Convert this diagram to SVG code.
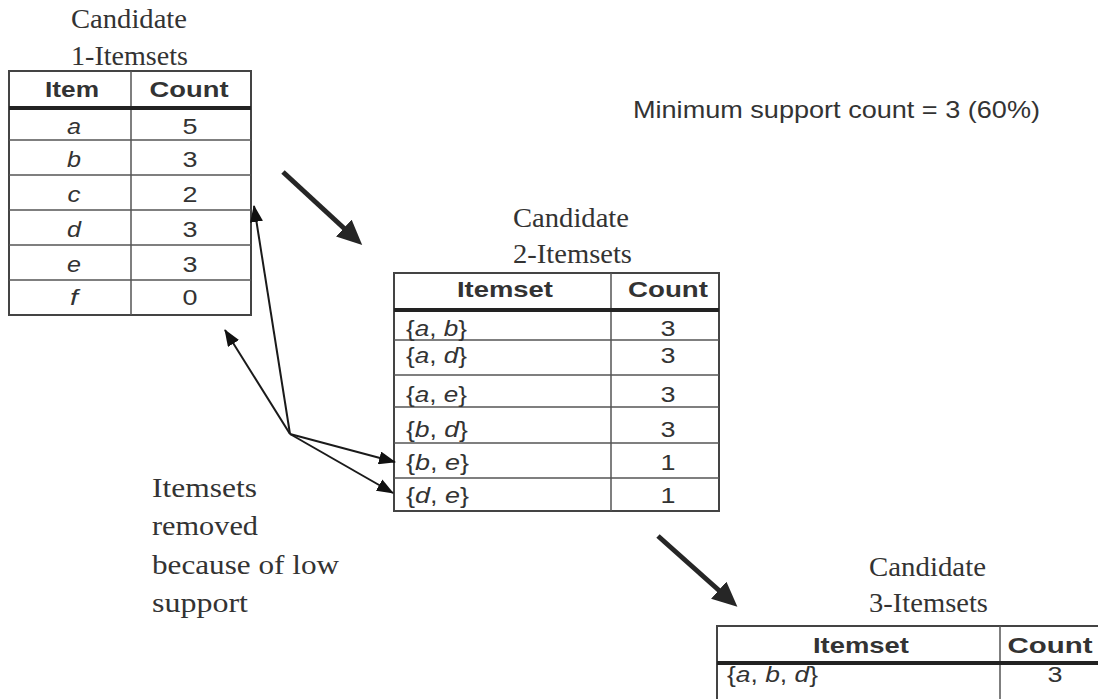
<svg xmlns="http://www.w3.org/2000/svg" width="1098" height="699" viewBox="0 0 1098 699">
  <style>
    .cap { font-family: "Liberation Serif", "Times New Roman", serif; font-size: 27px; fill: #333; }
    .note { font-family: "Liberation Serif", "Times New Roman", serif; font-size: 28px; fill: #333; }
    .min { font-family: "Liberation Sans", Arial, sans-serif; font-size: 24px; fill: #333; }
    .hd { font-family: "Liberation Sans", Arial, sans-serif; font-size: 22px; font-weight: bold; fill: #333; text-anchor: middle; }
    .cell { font-family: "Liberation Sans", Arial, sans-serif; font-size: 22px; fill: #333; }
    .mid { text-anchor: middle; }
    .it { font-style: italic; }
    .frame { fill: #fff; stroke: #444; stroke-width: 2; }
    .rule { stroke: #555; stroke-width: 1.5; }
    .thick { stroke: #222; stroke-width: 4; }
    .big { stroke: #262626; stroke-width: 5; fill: none; }
    .thin { stroke: #1a1a1a; stroke-width: 2; fill: none; }
  </style>
  <defs>
    <marker id="headBig" markerUnits="userSpaceOnUse" markerWidth="25" markerHeight="23" refX="8" refY="11.5" orient="auto">
      <path d="M0,0 L25,11.5 L0,23 z" fill="#262626"/>
    </marker>
    <marker id="headThin" markerUnits="userSpaceOnUse" markerWidth="17" markerHeight="13" refX="16" refY="6.5" orient="auto">
      <path d="M0,0 L17,6.5 L0,13 z" fill="#111"/>
    </marker>
  </defs>

  <rect width="1098" height="699" fill="#fff"/>

  <!-- Candidate 1-itemsets -->
  <g id="table1">
    <text class="cap" x="71" y="28" textLength="116" lengthAdjust="spacingAndGlyphs">Candidate</text>
    <text class="cap" x="71" y="65" textLength="117" lengthAdjust="spacingAndGlyphs">1-Itemsets</text>
    <rect class="frame" x="9" y="71" width="242" height="244"/>
    <line class="rule" x1="131" y1="71" x2="131" y2="315"/>
    <line class="thick" x1="9" y1="108" x2="251" y2="108"/>
    <line class="rule" x1="9" y1="140" x2="251" y2="140"/>
    <line class="rule" x1="9" y1="175" x2="251" y2="175"/>
    <line class="rule" x1="9" y1="210" x2="251" y2="210"/>
    <line class="rule" x1="9" y1="245" x2="251" y2="245"/>
    <line class="rule" x1="9" y1="280" x2="251" y2="280"/>
    <text class="hd" x="72" y="97" textLength="54" lengthAdjust="spacingAndGlyphs">Item</text>
    <text class="hd" x="189" y="97" textLength="79" lengthAdjust="spacingAndGlyphs">Count</text>
    <g class="cell mid">
      <text class="it" x="74" y="134" textLength="14" lengthAdjust="spacingAndGlyphs">a</text><text x="190" y="134" textLength="15" lengthAdjust="spacingAndGlyphs">5</text>
      <text class="it" x="74" y="167" textLength="14" lengthAdjust="spacingAndGlyphs">b</text><text x="190" y="167" textLength="15" lengthAdjust="spacingAndGlyphs">3</text>
      <text class="it" x="74" y="202" textLength="13" lengthAdjust="spacingAndGlyphs">c</text><text x="190" y="202" textLength="15" lengthAdjust="spacingAndGlyphs">2</text>
      <text class="it" x="74" y="237" textLength="14" lengthAdjust="spacingAndGlyphs">d</text><text x="190" y="237" textLength="15" lengthAdjust="spacingAndGlyphs">3</text>
      <text class="it" x="74" y="272" textLength="14" lengthAdjust="spacingAndGlyphs">e</text><text x="190" y="272" textLength="15" lengthAdjust="spacingAndGlyphs">3</text>
      <text class="it" x="74" y="305" textLength="8" lengthAdjust="spacingAndGlyphs">f</text><text x="190" y="305" textLength="15" lengthAdjust="spacingAndGlyphs">0</text>
    </g>
  </g>

  <!-- Candidate 2-itemsets -->
  <g id="table2">
    <text class="cap" x="513" y="227" textLength="116" lengthAdjust="spacingAndGlyphs">Candidate</text>
    <text class="cap" x="513" y="263" textLength="119" lengthAdjust="spacingAndGlyphs">2-Itemsets</text>
    <rect class="frame" x="394" y="273" width="325" height="238"/>
    <line class="rule" x1="611" y1="273" x2="611" y2="511"/>
    <line class="thick" x1="394" y1="310" x2="719" y2="310"/>
    <line class="rule" x1="394" y1="340" x2="719" y2="340"/>
    <line class="rule" x1="394" y1="375" x2="719" y2="375"/>
    <line class="rule" x1="394" y1="407" x2="719" y2="407"/>
    <line class="rule" x1="394" y1="443" x2="719" y2="443"/>
    <line class="rule" x1="394" y1="478" x2="719" y2="478"/>
    <text class="hd" x="505" y="297" textLength="96" lengthAdjust="spacingAndGlyphs">Itemset</text>
    <text class="hd" x="668" y="297" textLength="80" lengthAdjust="spacingAndGlyphs">Count</text>
    <g class="cell">
      <text x="406" y="336" textLength="61" lengthAdjust="spacingAndGlyphs">{<tspan class="it">a</tspan>, <tspan class="it">b</tspan>}</text>
      <text x="406" y="363" textLength="61" lengthAdjust="spacingAndGlyphs">{<tspan class="it">a</tspan>, <tspan class="it">d</tspan>}</text>
      <text x="406" y="402" textLength="61" lengthAdjust="spacingAndGlyphs">{<tspan class="it">a</tspan>, <tspan class="it">e</tspan>}</text>
      <text x="406" y="437" textLength="62" lengthAdjust="spacingAndGlyphs">{<tspan class="it">b</tspan>, <tspan class="it">d</tspan>}</text>
      <text x="406" y="470" textLength="63" lengthAdjust="spacingAndGlyphs">{<tspan class="it">b</tspan>, <tspan class="it">e</tspan>}</text>
      <text x="406" y="503" textLength="63" lengthAdjust="spacingAndGlyphs">{<tspan class="it">d</tspan>, <tspan class="it">e</tspan>}</text>
    </g>
    <g class="cell mid">
      <text x="668" y="336" textLength="15" lengthAdjust="spacingAndGlyphs">3</text>
      <text x="668" y="363" textLength="15" lengthAdjust="spacingAndGlyphs">3</text>
      <text x="668" y="402" textLength="15" lengthAdjust="spacingAndGlyphs">3</text>
      <text x="668" y="437" textLength="15" lengthAdjust="spacingAndGlyphs">3</text>
      <text x="668" y="470" textLength="15" lengthAdjust="spacingAndGlyphs">1</text>
      <text x="668" y="503" textLength="15" lengthAdjust="spacingAndGlyphs">1</text>
    </g>
  </g>

  <!-- Candidate 3-itemsets -->
  <g id="table3">
    <text class="cap" x="869" y="576" textLength="117" lengthAdjust="spacingAndGlyphs">Candidate</text>
    <text class="cap" x="869" y="612" textLength="119" lengthAdjust="spacingAndGlyphs">3-Itemsets</text>
    <rect class="frame" x="717" y="626" width="384" height="80"/>
    <line class="rule" x1="1000" y1="626" x2="1000" y2="700"/>
    <line class="thick" x1="717" y1="663" x2="1100" y2="663"/>
    <text class="hd" x="861" y="653" textLength="96" lengthAdjust="spacingAndGlyphs">Itemset</text>
    <text class="hd" x="1050" y="653" textLength="85" lengthAdjust="spacingAndGlyphs">Count</text>
    <text class="cell" x="727" y="682" textLength="91" lengthAdjust="spacingAndGlyphs">{<tspan class="it">a</tspan>, <tspan class="it">b</tspan>, <tspan class="it">d</tspan>}</text>
    <text class="cell mid" x="1055" y="682" textLength="15" lengthAdjust="spacingAndGlyphs">3</text>
  </g>

  <!-- threshold note -->
  <g id="minsup">
    <text class="min" x="633" y="118" textLength="407" lengthAdjust="spacingAndGlyphs">Minimum support count = 3 (60%)</text>
  </g>

  <!-- pruning note -->
  <g id="removed-note">
    <text class="note" x="152" y="497" textLength="105" lengthAdjust="spacingAndGlyphs">Itemsets</text>
    <text class="note" x="152" y="535" textLength="106" lengthAdjust="spacingAndGlyphs">removed</text>
    <text class="note" x="152" y="574" textLength="187" lengthAdjust="spacingAndGlyphs">because of low</text>
    <text class="note" x="152" y="612" textLength="96" lengthAdjust="spacingAndGlyphs">support</text>
  </g>

  <!-- connectors -->
  <g id="connectors">
    <line class="big" x1="283" y1="172" x2="349.7" y2="233.5" marker-end="url(#headBig)"/>
    <line class="big" x1="658" y1="536" x2="724.7" y2="595.5" marker-end="url(#headBig)"/>
    <line class="thin" x1="290" y1="434" x2="254" y2="206" marker-end="url(#headThin)"/>
    <line class="thin" x1="290" y1="434" x2="225" y2="330" marker-end="url(#headThin)"/>
    <line class="thin" x1="290" y1="434" x2="395" y2="462" marker-end="url(#headThin)"/>
    <line class="thin" x1="290" y1="434" x2="393" y2="493" marker-end="url(#headThin)"/>
  </g>
</svg>
